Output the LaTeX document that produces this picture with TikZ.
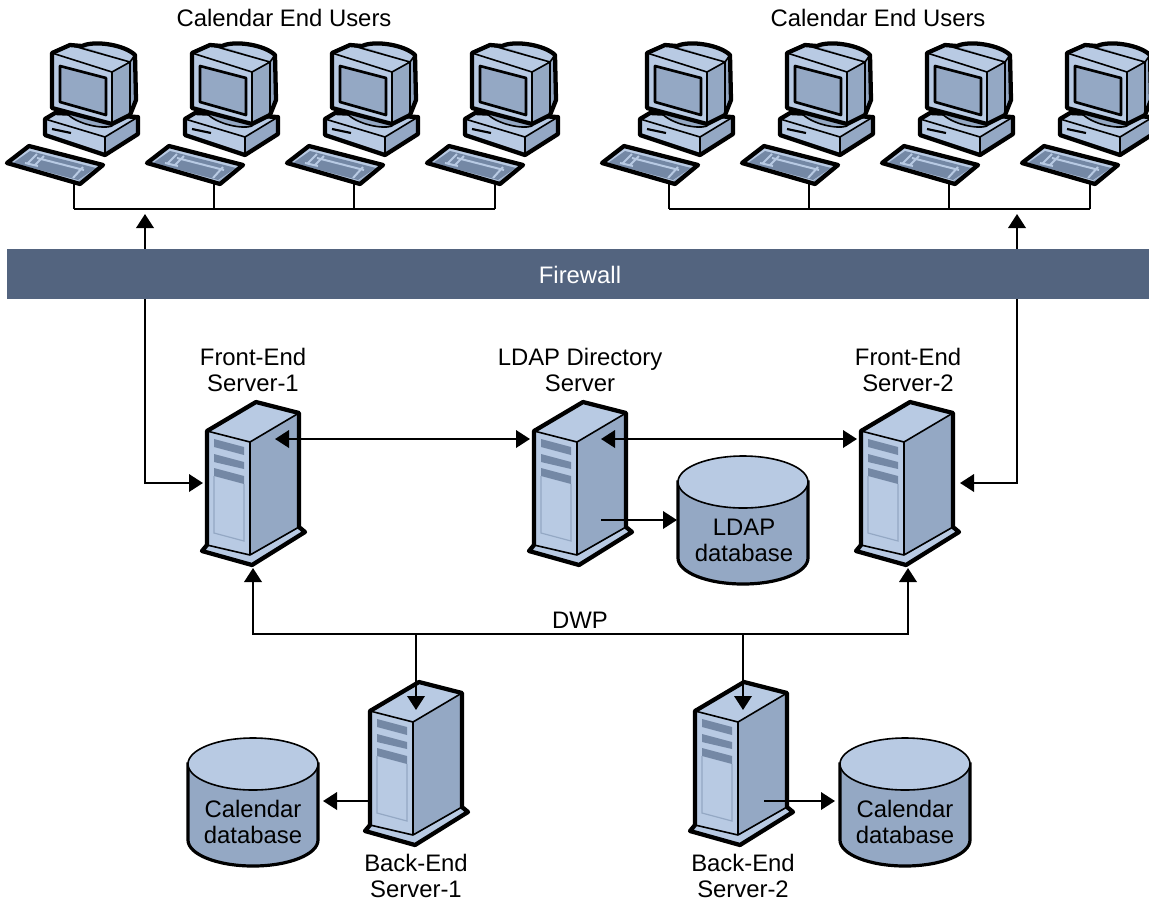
\documentclass[tikz,border=0pt]{standalone}
\usepackage{fontspec}
\setmainfont{Liberation Sans}
\usetikzlibrary{arrows.meta}
\definecolor{lite}{HTML}{B8CAE3}
\definecolor{midc}{HTML}{94A8C4}
\definecolor{dark}{HTML}{7488A5}
\definecolor{fw}{HTML}{53647F}
\tikzset{
  lbl/.style={font=\fontsize{17.9}{19.5}\selectfont,align=center,inner sep=0pt,text=black},
  conn/.style={line width=1.9pt,line join=miter,black},
  wire/.style={line width=1.4pt,black},
  arr/.style={conn,-{Triangle[length=10.5pt,width=13pt]}},
  darr/.style={conn,{Triangle[length=10.5pt,width=13pt]}-{Triangle[length=10.5pt,width=13pt]}},
  thin line/.style={draw=black,line width=1.2pt,line join=round},
  hwo/.style={draw=black,line width=3.2pt,line join=round},
}
\newcommand{\pccomputer}[1]{%
\begin{scope}[shift={(#1,0)}]
  % base
  \fill[lite] (45,119) -- (55,113) -- (138,117) -- (105,137) -- cycle;
  \fill[lite] (45,119) -- (105,137) -- (105,155) -- (45,135) -- cycle;
  \fill[midc] (105,137) -- (138,117) -- (138,134) -- (105,155) -- cycle;
  \draw[thin line] (45,119) -- (105,137) -- (138,117) (105,137) -- (105,155);
  \draw[hwo] (45,119) -- (55,113) -- (138,117) -- (138,134) -- (105,155) -- (45,135) -- cycle;
  \draw[line width=1.6pt] (52,129) -- (71,133);
  \draw[thin line,fill=midc] (66,112) .. controls (72,122) and (100,130) .. (112,126) -- (112,115) -- cycle;
  % monitor silhouette
  \path[fill=midc] (52,53) -- (70,45) -- (82,46) .. controls (95,40) and (125,45) .. (135,55)
     -- (136,100) -- (130,115) -- (112,124) -- (52,108) -- cycle;
  % back bump
  \fill[lite] (82,46) .. controls (95,40) and (125,45) .. (135,55) -- (130,62) -- cycle;
  \fill[lite] (52,53) -- (70,45) -- (130,62) -- (112,72) -- cycle;
  \fill[lite] (52,53) -- (112,72) -- (112,124) -- (52,108) -- cycle;
  \draw[thin line] (52,53) -- (112,72) -- (130,62) -- (70,45) (112,72) -- (112,124) (130,62) -- (135,55) (130,62) -- (130,115);
  \draw[hwo] (52,53) -- (70,45) -- (82,46) .. controls (95,40) and (125,45) .. (135,55)
     -- (136,100) -- (130,115) -- (112,124) -- (52,108) -- cycle;
  \draw[draw=black,line width=2pt,line join=round,fill=midc] (60,66) -- (106,78) -- (106,115) -- (60,102) -- cycle;
  % keyboard
  \fill[lite] (29,146) -- (103,165) -- (80,184) -- (7,163) -- cycle;
  \fill[dark] (30,151) -- (96,168) -- (78,180) -- (13,163) -- cycle;
  \draw[lite,line width=1.5pt] (37,154) -- (28,163) (44,156) -- (35,165) (25,163) -- (38,166) (37,158) -- (84,170) (83,167) -- (73,178);
  \fill[midc] (78,181) -- (100,165.5) -- (101,167) -- (80,182) -- cycle;
  \draw[hwo] (29,146) -- (103,165) -- (80,184) -- (7,163) -- cycle;
\end{scope}}
\newcommand{\towerserver}[2]{%
\begin{scope}[shift={(#1,#2)}]
  \fill[lite] (207,545) -- (202,551) -- (252,565) -- (305,532) -- (299,527) -- (250,555) -- cycle;
  \fill[midc] (250,442) -- (299,413) -- (299,527) -- (250,555) -- cycle;
  \fill[lite] (207,431) -- (250,442) -- (250,555) -- (207,545) -- cycle;
  \fill[lite] (207,431) -- (256,402) -- (299,413) -- (250,442) -- cycle;
  \fill[dark] (214,439) -- (244,447) -- (244,455) -- (214,447) -- cycle;
  \fill[dark] (214,454) -- (244,462) -- (244,469) -- (214,462) -- cycle;
  \fill[dark] (214,468) -- (244,476) -- (244,484) -- (214,476) -- cycle;
  \draw[midc,line width=.9pt] (214,476) -- (214,533) -- (244,541) -- (244,484);
  \draw[thin line] (207,431) -- (250,442) -- (299,413) (250,442) -- (250,555) -- (299,527) (207,545) -- (250,555);
  \draw[hwo] (207,431) -- (256,402) -- (299,413) -- (299,527) -- (305,532) -- (252,565) -- (202,551) -- (207,545) -- cycle;
\end{scope}}
\newcommand{\dbcyl}[2]{%
\begin{scope}[shift={(#1,#2)}]
  \draw[black,line width=2.4pt,fill=midc] (678,482) -- (678,558) arc[start angle=180,end angle=0,x radius=65,y radius=26] -- (808,482) -- cycle;
  \draw[black,line width=1.2pt,fill=lite] (743,482) ellipse[x radius=65,y radius=26];
\end{scope}}
\begin{document}
\begin{tikzpicture}[x=0.75pt,y=-0.75pt]
\useasboundingbox (0,0) rectangle (1149,901);
\clip (0,0) rectangle (1149,901);
\fill[white] (0,0) rectangle (1149,901);

% named points
\coordinate (lbusL) at (74,209); \coordinate (lbusR) at (495,209);
\coordinate (rbusL) at (669,209); \coordinate (rbusR) at (1090,209);
\foreach \n/\x in {a/74,b/214,c/354,d/495,e/669,f/809,g/949,h/1090}{
  \coordinate (kb\n) at (\x,184);
  \coordinate (bus\n) at (\x,209);
  \draw[wire] (kb\n) -- (bus\n);
}
\draw[wire] (lbusL) -- (lbusR);
\draw[wire] (rbusL) -- (rbusR);

\foreach \x in {0,140,280,420,595,735,875,1015}{\pccomputer{\x}}

\towerserver{0}{0}
\towerserver{327}{0}
\towerserver{654}{0}
\towerserver{163}{280}
\towerserver{488}{280}

\dbcyl{0}{0}
\dbcyl{-490}{282}
\dbcyl{162}{282}

% connector ends
\coordinate (upL) at (145,214); \coordinate (upR) at (1017,214);
\coordinate (feAin) at (203,483); \coordinate (feBin) at (960,483);
\coordinate (cornerL) at (145,483); \coordinate (cornerR) at (1017,483);
\coordinate (feAr) at (275,439); \coordinate (ldapL) at (530,439);
\coordinate (ldapR) at (601,439); \coordinate (feBl) at (857,439);
\coordinate (ldapS) at (601,520); \coordinate (ldapDb) at (677,520);
\coordinate (feAb) at (253,568); \coordinate (feBb) at (908,568);
\coordinate (dwpL) at (253,634); \coordinate (dwpR) at (908,634);
\coordinate (dropA) at (416,634); \coordinate (dropB) at (743,634);
\coordinate (beA) at (416,710); \coordinate (beB) at (743,710);
\coordinate (beAl) at (369,801); \coordinate (calA) at (323,801);
\coordinate (beBr) at (764,801); \coordinate (calB) at (835,801);

\draw[darr] (upL) -- (cornerL) -- (feAin);
\draw[darr] (upR) -- (cornerR) -- (feBin);
\draw[darr] (feAr) -- (ldapL);
\draw[darr] (ldapR) -- (feBl);
\draw[arr] (ldapS) -- (ldapDb);
\draw[darr] (feAb) -- (dwpL) -- (dwpR) -- (feBb);
\draw[arr] (dropA) -- (beA);
\draw[arr] (dropB) -- (beB);
\draw[arr] (beAl) -- (calA);
\draw[arr] (beBr) -- (calB);

% firewall
\fill[fw] (7,249) rectangle (1149,299);
\node[lbl,text=white] (firewall) at (580,275) {Firewall};

% labels
\node[lbl] (usersL) at (284,18) {Calendar End Users};
\node[lbl] (usersR) at (878,18) {Calendar End Users};
\node[lbl] (feA) at (253,370) {Front-End\\Server-1};
\node[lbl] (ldap) at (580,370) {LDAP Directory\\Server};
\node[lbl] (feB) at (908,370) {Front-End\\Server-2};
\node[lbl] (ldapdb) at (744,540) {LDAP\\database};
\node[lbl] (dwp) at (580,620) {DWP};
\node[lbl] (caldbA) at (253,822) {Calendar\\database};
\node[lbl] (caldbB) at (905,822) {Calendar\\database};
\node[lbl] (beAn) at (416,875.5) {Back-End\\Server-1};
\node[lbl] (beBn) at (743,875.5) {Back-End\\Server-2};
\end{tikzpicture}
\end{document}
